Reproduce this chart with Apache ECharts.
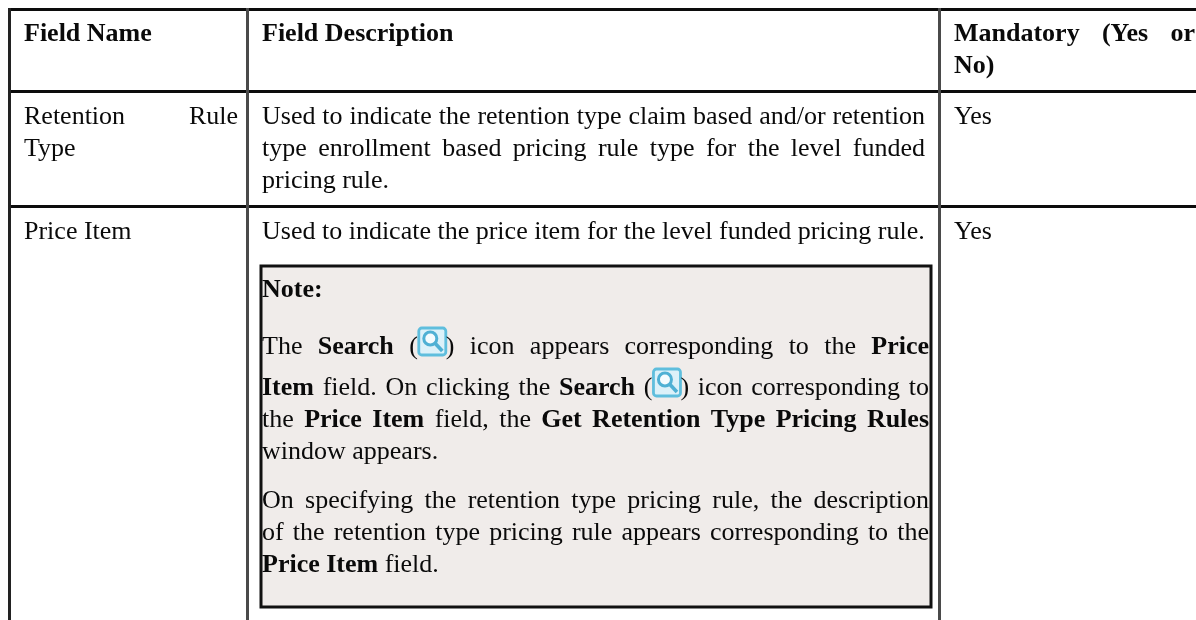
<!DOCTYPE html>
<html><head><meta charset="utf-8">
<style>html,body{margin:0;padding:0;background:#fff}#c{width:1196px;height:620px;filter:blur(0.35px)}</style>
<script src="https://cdn.jsdelivr.net/npm/echarts@6/dist/echarts.min.js"></script>
</head><body><div id="c"></div>
<script>
// Table content. '*' toggles bold, '@' marks the search icon, trailing '|' marks a justified line.
const headerNames = ['*Field Name*', '*Field Description*'];
const headerMandatory = ['*Mandatory (Yes or*|', '*No)*'];
const retentionName = ['Retention Rule|', 'Type'];
const retentionDesc = [
  'Used to indicate the retention type claim based and/or retention|',
  'type enrollment based pricing rule type for the level funded|',
  'pricing rule.'
];
const mandatoryValue = 'Yes';
const priceName = 'Price Item';
const priceDesc = 'Used to indicate the price item for the level funded pricing rule.';
const noteTitle = '*Note:*';
const noteLines = [
  'The *Search* (@) icon appears corresponding to the *Price*|',
  '*Item* field. On clicking the *Search* (@) icon corresponding to|',
  'the *Price Item* field, the *Get Retention Type Pricing Rules*|',
  'window appears.'
];
const noteLines2 = [
  'On specifying the retention type pricing rule, the description|',
  'of the retention type pricing rule appears corresponding to the|',
  '*Price Item* field.'
];

const FS = 26, FAMILY = '"Liberation Serif", "Times New Roman", serif', INK = '#0a0a0a';
const BASE_OFFSET = 20;
const ctx = document.createElement('canvas').getContext('2d');
const fontOf = b => (b ? 'bold ' : '') + FS + 'px ' + FAMILY;
const measure = (t, b) => { ctx.font = fontOf(b); return ctx.measureText(t).width; };
const ICON_W = 28;
const els = [];

function rect(x, y, w, h, fill, stroke, lw) {
  els.push({ type: 'rect', shape: { x, y, width: w, height: h }, style: { fill: fill || 'none', stroke: stroke || 'none', lineWidth: lw || 0 }, silent: true });
}
function line(x1, y1, x2, y2, color, w) {
  els.push({ type: 'line', shape: { x1, y1, x2, y2 }, style: { stroke: color, lineWidth: w }, silent: true });
}
function icon(x, baseline) {
  const y = baseline - 28;
  els.push({ type: 'rect', shape: { x: x + 1, y: y + 1, width: 27, height: 27, r: 3 }, style: { fill: '#dcf1f9', stroke: '#5fbedd', lineWidth: 2.8 }, silent: true });
  els.push({ type: 'circle', shape: { cx: x + 12.5, cy: y + 11.5, r: 6.5 }, style: { fill: '#f4fbfe', stroke: '#4fb0d4', lineWidth: 3 }, silent: true });
  els.push({ type: 'line', shape: { x1: x + 17.5, y1: y + 16.5, x2: x + 24.5, y2: y + 24 }, style: { stroke: '#4fb0d4', lineWidth: 3.6 }, silent: true });
}
function parse(src) {
  const words = []; let bold = false, cur = [], buf = '';
  const flush = () => { if (buf) { cur.push({ t: buf, b: bold }); buf = ''; } };
  const end = () => { flush(); if (cur.length) words.push(cur); cur = []; };
  for (const ch of src) {
    if (ch === '*') { flush(); bold = !bold; }
    else if (ch === '@') { flush(); cur.push({ icon: true }); }
    else if (ch === ' ') end();
    else buf += ch;
  }
  end();
  return words;
}
function drawLine(src, x, right, baseline) {
  const justify = src.endsWith('|');
  const words = parse(justify ? src.slice(0, -1) : src);
  const widthOf = p => p.icon ? ICON_W : measure(p.t, p.b);
  const ww = words.map(w => w.reduce((s, p) => s + widthOf(p), 0));
  const total = ww.reduce((a, b) => a + b, 0);
  const gap = justify && words.length > 1 ? (right - x - total) / (words.length - 1) : FS * 0.25;
  let cx = x;
  words.forEach((w, i) => {
    let px = cx;
    w.forEach(p => {
      if (p.icon) icon(px, baseline + 1);
      else els.push({ type: 'text', silent: true, style: { text: p.t, x: px, y: baseline - BASE_OFFSET, font: fontOf(p.b), fill: INK, textVerticalAlign: 'top' } });
      px += widthOf(p);
    });
    cx += ww[i] + gap;
  });
}

// Note box
rect(261, 266, 670, 341, '#f0ecea', '#111', 3);
// Table rules
[9.5, 91.5, 206.5].forEach(y => line(8, y, 1196, y, '#0c0c0c', 3));
line(9.5, 8, 9.5, 620, '#222', 3);
line(247.5, 8, 247.5, 620, '#4a4a4a', 3);
line(939.5, 8, 939.5, 620, '#4a4a4a', 3);

// Text
const C1 = 24, C1R = 238, C2 = 262, C2R = 925, C3 = 954, C3R = 1195, NR = 929;
drawLine(headerNames[0], C1, C1R, 41);
drawLine(headerNames[1], C2, C2R, 41);
headerMandatory.forEach((s, i) => drawLine(s, C3, C3R, 41 + i * 32));
retentionName.forEach((s, i) => drawLine(s, C1, C1R, 124 + i * 32));
retentionDesc.forEach((s, i) => drawLine(s, C2, C2R, 124 + i * 32));
drawLine(mandatoryValue, C3, C3R, 124);
drawLine(priceName, C1, C1R, 239);
drawLine(priceDesc, C2, C2R, 239);
drawLine(mandatoryValue, C3, C3R, 239);
drawLine(noteTitle, C2, NR, 297);
[354, 395, 427, 459].forEach((b, i) => drawLine(noteLines[i], C2, NR, b));
[508, 540, 572].forEach((b, i) => drawLine(noteLines2[i], C2, NR, b));

const chart = echarts.init(document.getElementById('c'), null, { renderer: 'canvas', width: 1196, height: 620 });
chart.setOption({ animation: false, backgroundColor: '#fff', graphic: { elements: els } });
</script></body></html>
